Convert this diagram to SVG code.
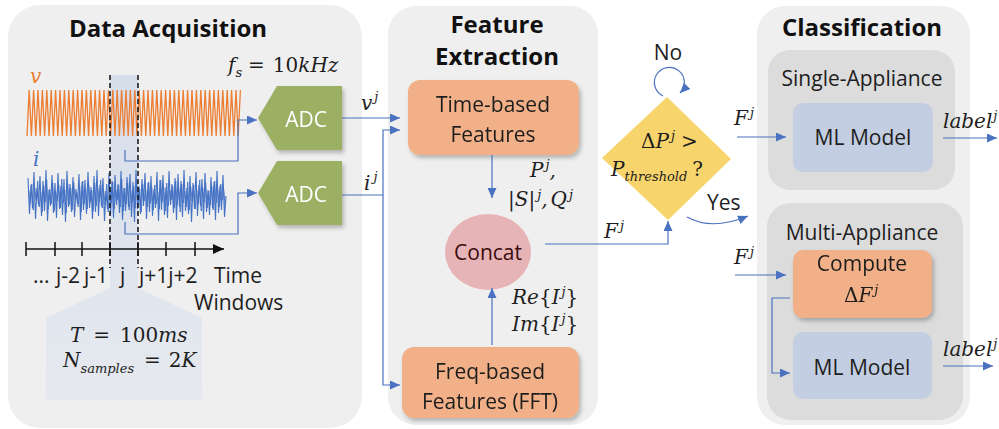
<svg xmlns="http://www.w3.org/2000/svg" width="999" height="429" viewBox="0 0 999 429">
<style>
.panel{fill:#efefef}
.group{fill:#dcdcdc}
.obox{fill:#f1b087}
.bbox{fill:#c4cee2}
.adc{fill:#9bb064}
.conn{fill:none;stroke:#4a72c0;stroke-width:1.2}
.title{font-family:"Open Sans","Noto Sans",sans-serif;font-weight:bold;font-size:24px;fill:#111;text-anchor:middle}
.lbl{font-family:"Open Sans","Noto Sans",sans-serif;font-size:21px;fill:#1e1e1e}
.c{text-anchor:middle}
.math{font-family:"DejaVu Serif","Liberation Serif",serif;font-style:italic;font-size:20px;fill:#1e1e1e}
.up{font-style:normal}
.sup{font-size:13px}
</style>
<defs>
<marker id="arr" markerUnits="userSpaceOnUse" markerWidth="10" markerHeight="9" refX="10" refY="4.5" orient="auto">
<path d="M0,0 L10,4.5 L0,9 z" fill="#4a72c0"/>
</marker>
<marker id="karr" markerUnits="userSpaceOnUse" markerWidth="11" markerHeight="10" refX="11" refY="5" orient="auto">
<path d="M0,0 L11,5 L0,10 z" fill="#111"/>
</marker>
<filter id="sh" x="-15%" y="-15%" width="135%" height="145%">
<feDropShadow dx="2" dy="3" stdDeviation="2" flood-color="#000" flood-opacity="0.25"/>
</filter>
<linearGradient id="band" x1="0" y1="0" x2="0" y2="1">
<stop offset="0" stop-color="#d6deeb"/>
<stop offset="1" stop-color="#e6e9ef"/>
</linearGradient>
</defs>

<!-- panels -->
<g id="acquisition">
<rect class="panel" x="8" y="5" width="354" height="423" rx="32"/>
<text class="title" x="168" y="37">Data Acquisition</text>
<text class="math" x="228" y="72">f<tspan class="sup" dy="5">s</tspan><tspan dy="-5" class="up" dx="6">=</tspan><tspan class="up" dx="8">10</tspan>kHz</text>
<!-- sampling window -->
<polygon points="110,75 138,75 138,288 202,318 202,400 46,400 46,318 110,288" fill="url(#band)"/>
<text class="math" x="30" y="83" style="fill:#ed7d31">v</text>
<path fill="none" stroke="#ed7d31" stroke-width="1.3" d="M27,136 l2.2,-46 2.2,46 2.2,-46 2.2,46 2.2,-46 2.2,46 2.2,-46 2.2,46 2.2,-46 2.2,46 2.2,-46 2.2,46 2.2,-46 2.2,46 2.2,-46 2.2,46 2.2,-46 2.2,46 2.2,-46 2.2,46 2.2,-46 2.2,46 2.2,-46 2.2,46 2.2,-46 2.2,46 2.2,-46 2.2,46 2.2,-46 2.2,46 2.2,-46 2.2,46 2.2,-46 2.2,46 2.2,-46 2.2,46 2.2,-46 2.2,46 2.2,-46 2.2,46 2.2,-46 2.2,46 2.2,-46 2.2,46 2.2,-46 2.2,46 2.2,-46 2.2,46 2.2,-46 2.2,46 2.2,-46 2.2,46 2.2,-46 2.2,46 2.2,-46 2.2,46 2.2,-46 2.2,46 2.2,-46 2.2,46 2.2,-46 2.2,46 2.2,-46 2.2,46 2.2,-46 2.2,46 2.2,-46 2.2,46 2.2,-46 2.2,46 2.2,-46 2.2,46 2.2,-46 2.2,46 2.2,-46 2.2,46 2.2,-46 2.2,46 2.2,-46 2.2,46 2.2,-46 2.2,46 2.2,-46 2.2,46 2.2,-46 2.2,46 2.2,-46 2.2,46 2.2,-46 2.2,46 2.2,-46 2.2,46 2.2,-46 2.2,46 2.2,-46 2.2,46 2.2,-46"/>
<text class="math" x="33" y="166" style="fill:#4472c4">i</text>
<polyline fill="none" stroke="#4472c4" stroke-width="1.1" points="28,178 29.5,214 31,185 32.5,208 34,172 35.5,219 37,188 38.5,205 40,176 41.5,216 43,181 44.5,211 46,170 47.5,221 49,190 50.5,206 52,175 53.5,213 55,183 56.5,218 58,173 59.5,209 61,186 62.5,215 64,179 65.5,222 67,171 68.5,207 70,184 71.5,212 73,177 74.5,217 76,189 77.5,204 79,174 80.5,220 82,182 83.5,210 85,180 86.5,214 88,172 89.5,208 91,187 92.5,219 94,176 95.5,212 97,170 98.5,216 100,185 101.5,206 103,178 104.5,221 106,191 107.5,209 109,173 110.5,215 112,181 113.5,218 115,175 116.5,205 118,184 119.5,213 121,171 122.5,220 124,188 125.5,211 127,177 128.5,207 130,174 131.5,217 133,182 134.5,222 136,170 137.5,209 139,186 140.5,214 142,179 143.5,206 145,173 146.5,219 148,183 149.5,212 151,176 152.5,216 154,189 155.5,208 157,172 158.5,221 160,180 161.5,210 163,175 164.5,215 166,187 167.5,218 169,171 170.5,205 172,184 173.5,213 175,178 176.5,220 178,174 179.5,207 181,181 182.5,217 184,170 185.5,211 187,188 188.5,214 190,176 191.5,222 193,183 194.5,209 196,172 197.5,216 199,185 200.5,206 202,179 203.5,219 205,173 206.5,212 208,190 209.5,215 211,177 212.5,208 214,182 215.5,220 217,171 218.5,213 220,186 221.5,210 223,175 224.5,217 226,196"/>
<polyline fill="none" stroke="#4472c4" stroke-width="0.9" points="28.7,190 30.2,203 31.7,184 33.2,210 34.7,188 36.2,200 37.7,181 39.2,207 40.7,192 42.2,212 43.7,186 45.2,202 46.7,180 48.2,209 49.7,189 51.2,204 52.7,183 54.2,211 55.7,191 57.2,201 58.7,185 60.2,208 61.7,179 63.2,203 64.7,190 66.2,213 67.7,184 69.2,205 70.7,188 72.2,210 73.7,182 75.2,200 76.7,192 78.2,207 79.7,186 81.2,212 82.7,181 84.2,204 85.7,189 87.2,209 88.7,185 90.2,202 91.7,190 93.2,211 94.7,183 96.2,206 97.7,188 99.2,201 100.7,180 102.2,208 103.7,191 105.2,205 106.7,184 108.2,212 109.7,187 111.2,203 112.7,182 114.2,209 115.7,190 117.2,200 118.7,185 120.2,207 121.7,179 123.2,211 124.7,188 126.2,204 127.7,183 129.2,210 130.7,191 132.2,202 133.7,186 135.2,208 136.7,181 138.2,205 139.7,189 141.2,212 142.7,184 144.2,201 145.7,190 147.2,207 148.7,182 150.2,203 151.7,187 153.2,210 154.7,185 156.2,204 157.7,192 159.2,209 160.7,180 162.2,202 163.7,188 165.2,211 166.7,183 168.2,206 169.7,190 171.2,200 172.7,186 174.2,208 175.7,181 177.2,205 178.7,189 180.2,212 181.7,184 183.2,203 184.7,191 186.2,207 187.7,182 189.2,210 190.7,187 192.2,201 193.7,185 195.2,209 196.7,190 198.2,204 199.7,180 201.2,211 202.7,188 204.2,202 205.7,183 207.2,208 208.7,191 210.2,205 211.7,186 213.2,210 214.7,181 216.2,203 217.7,189 219.2,207 220.7,184 222.2,200 223.7,190 225.2,205"/>
<!-- window boundaries -->
<line x1="110" y1="75" x2="110" y2="268" stroke="#111" stroke-width="1.5" stroke-dasharray="5,3"/>
<line x1="138" y1="75" x2="138" y2="268" stroke="#111" stroke-width="1.5" stroke-dasharray="5,3"/>
<!-- time axis -->
<line x1="26" y1="249" x2="224" y2="249" stroke="#111" stroke-width="1.5" marker-end="url(#karr)"/>
<path d="M26,242 V256 M55,242 V256 M82,242 V256 M110,242 V256 M138,242 V256 M166,242 V256 M195,242 V256" stroke="#111" stroke-width="1.5"/>
<text class="lbl" y="283" font-size="19"><tspan x="33">...</tspan><tspan x="56">j-2</tspan><tspan x="84">j-1</tspan><tspan x="120">j</tspan><tspan x="139">j+1j+2</tspan><tspan x="214">Time</tspan></text>
<text class="lbl" x="194" y="310" font-size="19">Windows</text>
<text class="math" x="70" y="342">T<tspan class="up" dx="10">=</tspan><tspan class="up" dx="10">100</tspan>ms</text>
<text class="math" x="63" y="367">N<tspan class="sup" dy="6">samples</tspan><tspan dy="-6" class="up" dx="10">=</tspan><tspan class="up" dx="8">2</tspan>K</text>
</g>

<g id="adc-v" filter="url(#sh)">
<polygon class="adc" points="258,118 277,86 342,86 342,150 277,150"/>
<text class="lbl c" x="306" y="127" font-size="24" style="fill:#fff">ADC</text>
</g>
<g id="adc-i" filter="url(#sh)">
<polygon class="adc" points="258,193 277,161 342,161 342,225 277,225"/>
<text class="lbl c" x="306" y="202" font-size="24" style="fill:#fff">ADC</text>
</g>

<g id="extraction">
<rect class="panel" x="388" y="6" width="210" height="419" rx="28"/>
<text class="title" x="497" y="33">Feature</text>
<text class="title" x="497" y="65">Extraction</text>
</g>
<g id="time-features" filter="url(#sh)">
<rect class="obox" x="408" y="80" width="171" height="75" rx="12"/>
<text class="lbl c" x="493" y="112">Time-based</text>
<text class="lbl c" x="493" y="142">Features</text>
</g>
<g id="concat">
<ellipse cx="488" cy="252" rx="43" ry="38" fill="#e6b4b7"/>
<text class="lbl c" x="488" y="260" font-size="22" style="fill:#3b0c0c">Concat</text>
</g>
<g id="freq-features" filter="url(#sh)">
<rect class="obox" x="402" y="347" width="177" height="71" rx="12"/>
<text class="lbl c" x="490" y="379">Freq-based</text>
<text class="lbl c" x="490" y="409">Features (FFT)</text>
</g>

<g id="decision">
<polygon points="667,97 731,159 668,220 602,158" fill="#f8d56c"/>
<text class="math" x="641" y="148"><tspan class="up">Δ</tspan>P<tspan class="sup" dy="-8" dx="2">j</tspan><tspan dy="8" class="up" dx="6">&gt;</tspan></text>
<text class="math" x="611" y="176">P<tspan class="sup" dy="5">threshold</tspan><tspan dy="-5" class="up" dx="5">?</tspan></text>
<text class="lbl c" x="668" y="60">No</text>
<text class="lbl" x="707" y="210">Yes</text>
</g>

<g id="classification">
<rect class="panel" x="757" y="6" width="213" height="419" rx="28"/>
<text class="title" x="862" y="36">Classification</text>
</g>
<g id="single-appliance">
<rect class="group" x="768" y="50" width="187" height="140" rx="22"/>
<text class="lbl c" x="862" y="86" font-size="20">Single-Appliance</text>
</g>
<g id="ml-single">
<rect class="bbox" x="793" y="103" width="140" height="69" rx="10"/>
<text class="lbl c" x="863" y="145" font-size="22">ML Model</text>
</g>
<g id="multi-appliance">
<rect class="group" x="767" y="203" width="196" height="217" rx="24"/>
<text class="lbl c" x="862" y="240" font-size="20">Multi-Appliance</text>
</g>
<g id="compute" filter="url(#sh)">
<rect class="obox" x="793" y="250" width="139" height="68" rx="10"/>
<text class="lbl c" x="862" y="271">Compute</text>
<text class="math" x="844" y="302"><tspan class="up">Δ</tspan>F<tspan class="sup" dy="-8" dx="2">j</tspan></text>
</g>
<g id="ml-multi">
<rect class="bbox" x="793" y="332" width="139" height="67" rx="10"/>
<text class="lbl c" x="862" y="375" font-size="22">ML Model</text>
</g>

<g id="connectors">
<path class="conn" d="M125,150 V161 H238 V120 H257" marker-end="url(#arr)"/>
<path class="conn" d="M125,222 V234 H238 V193 H257" marker-end="url(#arr)"/>
<path class="conn" d="M342,118 H400" marker-end="url(#arr)"/>
<path class="conn" d="M342,195 H383 V130 H400" marker-end="url(#arr)"/>
<path class="conn" d="M383,195 V385 H400" marker-end="url(#arr)"/>
<path class="conn" d="M492,155 V198" marker-end="url(#arr)"/>
<path class="conn" d="M492,345 V288" marker-end="url(#arr)"/>
<path class="conn" d="M545,244 H668 V221" marker-end="url(#arr)"/>
<path class="conn" d="M663,96 A15,15 0 1 1 680,93" marker-end="url(#arr)"/>
<path class="conn" d="M687,217 Q712,231 748,216" marker-end="url(#arr)"/>
<path class="conn" d="M737,137 H786" marker-end="url(#arr)"/>
<path class="conn" d="M943,138 H997" marker-end="url(#arr)"/>
<path class="conn" d="M735,275 H786" marker-end="url(#arr)"/>
<path class="conn" d="M790,298 H772 V373 H790" marker-end="url(#arr)"/>
<path class="conn" d="M943,366 H993" marker-end="url(#arr)"/>
<text class="math" x="361" y="110">v<tspan class="sup" dy="-9" dx="2">j</tspan></text>
<text class="math" x="364" y="190">i<tspan class="sup" dy="-9" dx="3">j</tspan></text>
<text class="math" x="530" y="177">P<tspan class="sup" dy="-8" dx="2">j</tspan><tspan dy="8">,</tspan></text>
<text class="math" x="508" y="206"><tspan class="up">|</tspan>S<tspan class="up">|</tspan><tspan class="sup" dy="-7" dx="2">j</tspan><tspan dy="7">,</tspan><tspan dx="3">Q</tspan><tspan class="sup" dy="-7" dx="2">j</tspan></text>
<text class="math" x="512" y="304">Re<tspan class="up">{</tspan>I<tspan class="sup" dy="-8" dx="2">j</tspan><tspan dy="8" class="up">}</tspan></text>
<text class="math" x="512" y="331">Im<tspan class="up">{</tspan>I<tspan class="sup" dy="-8" dx="2">j</tspan><tspan dy="8" class="up">}</tspan></text>
<text class="math" x="604" y="238">F<tspan class="sup" dy="-8" dx="2">j</tspan></text>
<text class="math" x="734" y="125">F<tspan class="sup" dy="-8" dx="2">j</tspan></text>
<text class="math" x="734" y="264">F<tspan class="sup" dy="-8" dx="2">j</tspan></text>
<text class="math" x="943" y="128" font-size="19">label<tspan class="sup" dy="-8" dx="1">j</tspan></text>
<text class="math" x="943" y="356" font-size="19">label<tspan class="sup" dy="-8" dx="1">j</tspan></text>
</g>
</svg>
